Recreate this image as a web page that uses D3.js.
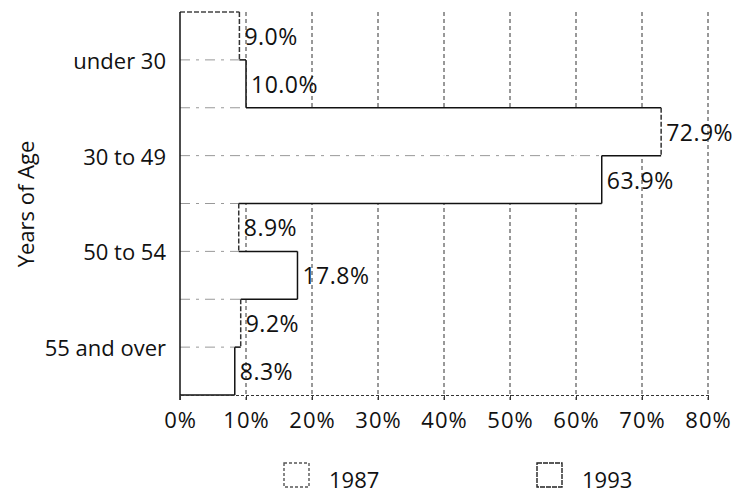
<!DOCTYPE html>
<html><head><meta charset="utf-8">
<script src="https://cdn.jsdelivr.net/npm/d3@7"></script>
<style>
body{margin:0;background:#fff;}
text{font-family:"Open Sans",sans-serif;fill:#111;}
</style></head>
<body><svg id="c" width="751" height="491"></svg>
<script>
const categories = ["under 30","30 to 49","50 to 54","55 and over"];
const series = ["1987","1993"];
const values1987 = [9.0, 72.9, 8.9, 9.2];
const values1993 = [10.0, 63.9, 17.8, 8.3];
const xTicks = [0,10,20,30,40,50,60,70,80];
const yTitle = "Years of Age";

const svg = d3.select("#c");
const x = d3.scaleLinear().domain([0,80]).range([180,708]);
const y0 = d3.scaleBand().domain(categories).range([12,395]).padding(0);
const y1 = d3.scaleBand().domain(series).range([0,y0.bandwidth()]).padding(0);

const data = [];
categories.forEach((c,i)=>{
  data.push({cat:c, s:"1987", v:values1987[i]});
  data.push({cat:c, s:"1993", v:values1993[i]});
});
const barTop = d=>y0(d.cat)+y1(d.s);
const barBot = d=>y0(d.cat)+y1(d.s)+y1.bandwidth();

// grid lines
svg.append("g").selectAll("line").data(xTicks.slice(1)).join("line")
  .attr("x1",d=>x(d)).attr("x2",d=>x(d)).attr("y1",12).attr("y2",400)
  .attr("stroke","#333").attr("stroke-width",1).attr("stroke-dasharray","4,3");

// bar fills
svg.append("g").selectAll("rect").data(data).join("rect")
  .attr("x",x(0)).attr("y",barTop)
  .attr("width",d=>x(d.v)-x(0)).attr("height",y1.bandwidth())
  .attr("fill","#fff");

// boundaries between bars
const bounds = [];
for(let i=0;i<=data.length;i++){
  const a = data[i-1], b = data[i];
  const yy = b ? barTop(b) : barBot(a);
  const va = a ? a.v : 0, vb = b ? b.v : 0;
  bounds.push({y:yy, lo:Math.min(va,vb), hi:Math.max(va,vb), first:!a, last:!b});
}
const bg = svg.append("g");
bg.selectAll("line.in").data(bounds.filter(d=>!d.first && !d.last)).join("line")
  .attr("class","in")
  .attr("x1",x(0)).attr("x2",d=>x(d.lo)).attr("y1",d=>d.y).attr("y2",d=>d.y)
  .attr("stroke","#999").attr("stroke-width",1).attr("stroke-dasharray","10,6,3,6");
bg.selectAll("line.out").data(bounds).join("line")
  .attr("class","out")
  .attr("x1",d=>(d.first||d.last)?x(0):x(d.lo)).attr("x2",d=>x(d.hi))
  .attr("y1",d=>d.y).attr("y2",d=>d.y)
  .attr("stroke",d=>d.first?"#444":"#111").attr("stroke-width",1.5)
  .attr("stroke-dasharray",d=>d.first?"5,2":null);
bg.selectAll("line.edge").data(data).join("line")
  .attr("class","edge")
  .attr("x1",d=>x(d.v)).attr("x2",d=>x(d.v)).attr("y1",barTop).attr("y2",barBot)
  .attr("stroke",d=>d.s==="1987"?"#333":"#111").attr("stroke-width",1.5)
  .attr("stroke-dasharray",d=>d.s==="1987"?"5,2":null);

// left axis line
svg.append("line").attr("x1",x(0)).attr("x2",x(0)).attr("y1",12).attr("y2",400)
  .attr("stroke","#111").attr("stroke-width",1.5);
// bottom axis
const xAxis = d3.axisBottom(x).tickValues(xTicks).tickFormat(d=>d+"%").tickSize(5).tickPadding(12);
const gx = svg.append("g").attr("transform","translate(0,395)").call(xAxis);
gx.select(".domain").attr("stroke","#333").attr("stroke-dasharray","3,2");
gx.selectAll(".tick line").attr("stroke","#333");
gx.selectAll("text").style("font-size","22px").style("letter-spacing","1px")
  .attr("fill","#111").style("font-family","'Open Sans',sans-serif");

// y axis labels
svg.append("g").selectAll("text").data(categories).join("text")
  .attr("x",166).attr("y",d=>y0(d)+y0.bandwidth()/2)
  .attr("text-anchor","end").attr("dominant-baseline","central")
  .style("font-size","22px").text(d=>d);

svg.append("text").attr("transform","translate(25,204) rotate(-90)")
  .attr("text-anchor","middle").attr("dominant-baseline","central")
  .style("font-size","22px").text(yTitle);

// value labels
svg.append("g").selectAll("text").data(data).join("text")
  .attr("x",d=>x(d.v)+5)
  .attr("y",d=>barTop(d)+y1.bandwidth()/2)
  .attr("dominant-baseline","central")
  .style("font-size","23px").style("letter-spacing","0.5px").text(d=>d.v.toFixed(1)+"%");

// legend
const leg = [{s:"1987",x:284},{s:"1993",x:537}];
const lg = svg.append("g").selectAll("g").data(leg).join("g");
lg.append("rect").attr("x",d=>d.x).attr("y",463).attr("width",25).attr("height",24)
  .attr("fill","#fff").attr("stroke",d=>d.s==="1987"?"#555":"#222")
  .attr("stroke-dasharray",d=>d.s==="1987"?"3,2":"5,1").attr("stroke-width",1.4);
lg.append("text").attr("x",d=>d.x+45).attr("y",479).attr("dominant-baseline","central")
  .style("font-size","22px").text(d=>d.s);
</script></body></html>
